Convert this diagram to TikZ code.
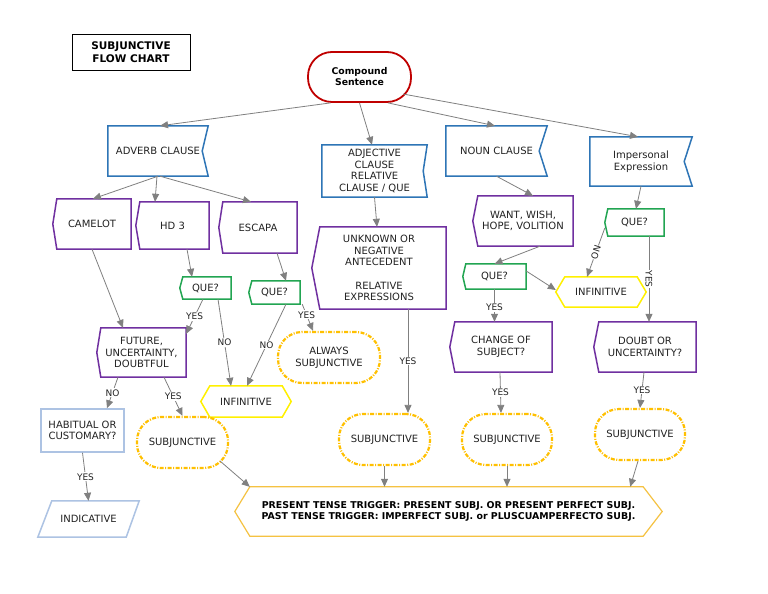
\documentclass[tikz,border=0pt]{standalone}
\usepackage{fontspec}
\setmainfont{DejaVu Sans}
\usetikzlibrary{arrows.meta}
\definecolor{blueC}{HTML}{2E75B6}
\definecolor{purpleC}{HTML}{7030A0}
\definecolor{greenC}{HTML}{22A552}
\definecolor{yellowC}{HTML}{FFF000}
\definecolor{goldC}{HTML}{FFC000}
\definecolor{bottomC}{HTML}{F5C242}
\definecolor{lblueC}{HTML}{ADC3E3}
\definecolor{redC}{HTML}{C00000}
\definecolor{arrowC}{HTML}{808080}
\definecolor{txtC}{HTML}{222222}
\begin{document}
\begin{tikzpicture}[x=1pt,y=-1pt,
  box/.style={draw=none,inner sep=0pt,align=center,text=txtC,
    font=\fontsize{10}{11.6}\selectfont},
  wh/.style 2 args={minimum width=#1pt,minimum height=#2pt},
  outl/.style={line width=1.5pt,line join=miter},
  bluel/.style={outl,draw=blueC},
  purpl/.style={outl,draw=purpleC},
  greenl/.style={outl,draw=greenC},
  yell/.style={outl,draw=yellowC},
  lbluel/.style={outl,draw=lblueC},
  subj/.style={box,draw=goldC,line width=2.2pt,rounded corners=24pt,
    dash pattern=on 4pt off 1.5pt on 1pt off 1.5pt},
  arr/.style={draw=arrowC,line width=0.8pt,-{Triangle[length=8pt,width=7pt]},fill=none},
  lab/.style={fill=white,inner sep=1pt,text=txtC,font=\fontsize{9}{10}\selectfont},
]
\useasboundingbox (0,0) rectangle (768,594);
\fill[white] (0,0) rectangle (768,594);

% title
\node[box,wh={118}{36},draw=black,line width=0.8pt,text=black,
  font=\bfseries\fontsize{10.5}{13}\selectfont] (title) at (131,52) {SUBJUNCTIVE\\FLOW CHART};
% compound sentence
\node[box,wh={103}{50},draw=redC,line width=1.8pt,rounded corners=24pt,text=black,
  font=\bfseries\fontsize{9.3}{11}\selectfont] (cs) at (359.5,77) {Compound\\Sentence};

% blue flags
\node[box,wh={100}{50}] (adv) at (158,151) {ADVERB CLAUSE};
\node[box,wh={105}{52}] (adj) at (374.5,171) {ADJECTIVE\\CLAUSE\\RELATIVE\\CLAUSE / QUE};
\node[box,wh={101}{50}] (noun) at (496.5,151) {NOUN CLAUSE};
\node[box,wh={102}{49}] (imp) at (641,161.5) {Impersonal\\Expression};
\foreach \n/\d in {adv/6,adj/4,noun/8,imp/8}
  \draw[bluel] (\n.north west) -- (\n.north east) -- ([xshift=-\d pt]\n.east)
    -- (\n.south east) -- (\n.south west) -- cycle;

% purple left-pointing
\node[box,wh={78}{50}] (camelot) at (92,224) {CAMELOT};
\node[box,wh={73}{47}] (hd) at (172.5,225.5) {HD 3};
\node[box,wh={78}{51}] (escapa) at (258,227.5) {ESCAPA};
\node[box,wh={89}{49}] (future) at (141.5,352.5) {FUTURE,\\UNCERTAINTY,\\DOUBTFUL};
\node[box,wh={134}{82}] (unknown) at (379,268) {UNKNOWN OR\\NEGATIVE\\ANTECEDENT\\[11.6pt]RELATIVE\\EXPRESSIONS};
\node[box,wh={100}{50}] (want) at (523,221) {WANT, WISH,\\HOPE, VOLITION};
\node[box,wh={102}{50}] (change) at (501,347) {CHANGE OF\\SUBJECT?};
\node[box,wh={102}{50}] (doubt) at (645,347) {DOUBT OR\\UNCERTAINTY?};
\foreach \n/\d in {camelot/4,hd/4,escapa/4,future/4,unknown/8,want/5,change/5,doubt/5}
  \draw[purpl] (\n.west) -- ([xshift=\d pt]\n.north west) -- (\n.north east)
    -- (\n.south east) -- ([xshift=\d pt]\n.south west) -- cycle;

% green QUE?
\node[box,wh={51}{22}] (que1) at (205.5,288) {QUE?};
\node[box,wh={51}{23}] (que2) at (274.5,292.5) {QUE?};
\node[box,wh={63}{25}] (que3) at (494.5,276.5) {QUE?};
\node[box,wh={59}{27}] (que4) at (634.5,222.5) {QUE?};
\foreach \n in {que1,que2,que3,que4}
  \draw[greenl] (\n.west) -- ([xshift=3pt]\n.north west) -- (\n.north east)
    -- (\n.south east) -- ([xshift=3pt]\n.south west) -- cycle;

% yellow hexagons
\node[box,wh={90}{31}] (inf1) at (246,401.5) {INFINITIVE};
\node[box,wh={90}{30}] (inf2) at (601,292) {INFINITIVE};
\foreach \n in {inf1,inf2}
  \draw[yell] (\n.west) -- ([xshift=9pt]\n.north west) -- ([xshift=-9pt]\n.north east)
    -- (\n.east) -- ([xshift=-9pt]\n.south east) -- ([xshift=9pt]\n.south west) -- cycle;

% subjunctive stadiums
\node[subj,wh={102}{51}] (always) at (329,357.5) {ALWAYS\\SUBJUNCTIVE};
\node[subj,wh={91}{51}] (subjL) at (182.5,442.5) {SUBJUNCTIVE};
\node[subj,wh={91}{51}] (subjM1) at (384.5,439.5) {SUBJUNCTIVE};
\node[subj,wh={90}{51}] (subjM2) at (507,439.5) {SUBJUNCTIVE};
\node[subj,wh={90}{51}] (subjR) at (640,434.5) {SUBJUNCTIVE};

% light blue
\node[box,wh={83}{43},draw=lblueC,line width=1.5pt] (habit) at (82.5,430.5) {HABITUAL OR\\CUSTOMARY?};
\node[box,wh={101}{36}] (indic) at (88.5,519) {INDICATIVE};
\draw[lbluel] ([xshift=14pt]indic.north west) -- (indic.north east)
  -- ([xshift=-13pt]indic.south east) -- (indic.south west) -- cycle;

% bottom box
\node[box,wh={427}{49},text=black,font=\bfseries\fontsize{9.4}{11}\selectfont] (bottom) at (448.5,511.5)
  {PRESENT TENSE TRIGGER: PRESENT SUBJ. OR PRESENT PERFECT SUBJ.\\PAST TENSE TRIGGER: IMPERFECT SUBJ. or PLUSCUAMPERFECTO SUBJ.};
\draw[line width=1.2pt,draw=bottomC] (bottom.west) -- ([xshift=15pt]bottom.north west)
  -- ([xshift=-19pt]bottom.north east) -- (bottom.east) -- ([xshift=-19pt]bottom.south east)
  -- ([xshift=15pt]bottom.south west) -- cycle;

% connectors
\draw[arr] ([xshift=-29pt]cs.south) -- ([xshift=2pt]adv.north);
\draw[arr] (cs.south) -- ([xshift=-2.5pt]adj.north);
\draw[arr] ([xshift=28.5pt]cs.south) -- ([xshift=-1.5pt]noun.north);
\draw[arr] ([xshift=43.5pt,yshift=-17pt]cs.center) -- ([xshift=-3pt]imp.north);

\draw[arr] (adv.south) -- ([xshift=1pt]camelot.north);
\draw[arr] ([xshift=-1pt]adv.south) -- ([xshift=-17.5pt]hd.north);
\draw[arr] ([xshift=2pt]adv.south) -- ([xshift=-7pt]escapa.north);

\draw[arr] (camelot.south) -- ([xshift=-18.5pt]future.north);
\draw[arr] ([xshift=14.5pt]hd.south) -- ([xshift=-13.5pt]que1.north);
\draw[arr] ([xshift=19pt]escapa.south) -- ([xshift=11.5pt]que2.north);

\draw[arr] ([xshift=-2.5pt]que1.south) -- node[lab]{YES} ([yshift=-6pt]future.north east);
\draw[arr] ([xshift=12.5pt]que1.south) -- node[lab]{NO} ([xshift=-15pt]inf1.north);
\draw[arr] ([xshift=11.5pt]que2.south) -- node[lab]{NO} ([xshift=1pt]inf1.north);
\draw[arr] ([xshift=2pt]que2.south east) -- node[lab,pos=0.4]{YES} ([xshift=-16pt]always.north);

\draw[arr] ([xshift=-23.5pt]future.south) -- node[lab]{NO} ([xshift=24.5pt]habit.north);
\draw[arr] ([xshift=22.5pt]future.south) -- node[lab]{YES} (subjL.north);
\draw[arr] (habit.south) -- node[lab]{YES} (indic.north);
\draw[arr] ([xshift=37.5pt,yshift=-18.5pt]subjL.center) -- ([xshift=15pt]bottom.north west);

\draw[arr] (adj.south) -- ([xshift=-2pt]unknown.north);
\draw[arr] ([xshift=29pt]unknown.south) -- node[lab]{YES} ([xshift=23.5pt]subjM1.north);
\draw[arr] (subjM1.south) -- (subjM1.south |- bottom.north);

\draw[arr] (noun.south) -- ([xshift=10pt]want.north);
\draw[arr] ([xshift=17pt]want.south) -- (que3.north);
\draw[arr] ([yshift=5.5pt]que3.east) -- ([yshift=2pt]inf2.west);
\draw[arr] (que3.south) -- node[lab,pos=0.55]{YES} (que3.south |- change.north);
\draw[arr] ([xshift=-1pt]change.south) -- node[lab]{YES} ([xshift=-6pt]subjM2.north);
\draw[arr] (subjM2.south) -- (subjM2.south |- bottom.north);

\draw[arr] (imp.south) -- ([xshift=1.5pt]que4.north);
\draw[arr] ([yshift=-5.5pt]que4.west) -- node[lab,inner sep=0.5pt,rotate=-108]{NO} ([xshift=-14pt]inf2.north);
\draw[arr] ([xshift=14.5pt]que4.south) -- node[lab,rotate=-90]{YES} ([xshift=14.5pt]que4.south |- doubt.north);
\draw[arr] ([xshift=-1pt]doubt.south) -- node[lab]{YES} (subjR.north);
\draw[arr] ([xshift=-2pt]subjR.south) -- ([xshift=-32pt]bottom.north east);
\end{tikzpicture}
\end{document}
